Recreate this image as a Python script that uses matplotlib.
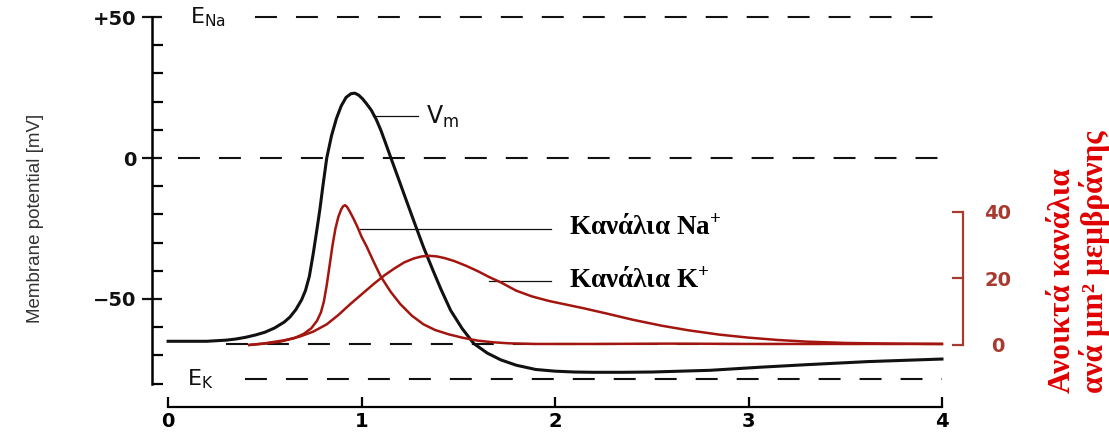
import matplotlib
matplotlib.use('Agg')
import matplotlib.pyplot as plt

plt.rcParams['lines.scale_dashes'] = False
plt.rcParams['mathtext.default'] = 'regular'

# Membrane potential Vm (ms, mV)
t_vm = [0.0, 0.1, 0.2, 0.3, 0.35, 0.4, 0.45, 0.5, 0.55, 0.6, 0.63, 0.66, 0.69, 0.71,
        0.73, 0.75, 0.77, 0.785, 0.80, 0.82, 0.845, 0.87, 0.895, 0.92, 0.945, 0.965,
        0.985, 1.005, 1.025, 1.05, 1.075, 1.10, 1.125, 1.147, 1.19, 1.23, 1.28, 1.32,
        1.37, 1.41, 1.46, 1.52, 1.58, 1.65, 1.72, 1.80, 1.90, 2.0, 2.1, 2.2, 2.35,
        2.5, 2.65, 2.8, 3.06, 3.3, 3.62, 4.0]
v_vm = [-65, -65, -65, -64.6, -64.2, -63.6, -62.8, -61.8, -60.3, -58.2, -56.4, -53.8,
        -50.3, -47, -42, -34, -25, -18, -10, 0, 8, 14, 18.5, 21.5, 22.8, 23,
        22.3, 21, 19.3, 17, 13.8, 9.8, 5.1, 0.9, -7.2, -14.8, -24.2, -31.6,
        -40, -46.5, -54, -60.5, -65.8, -69.2, -71.6, -73.5, -75, -75.6, -75.9, -76, -76,
        -75.9, -75.6, -75.3, -74.2, -73.3, -72.2, -71.3]

# Open Na+ channels per um^2
t_na = [0.42, 0.5, 0.58, 0.65, 0.70, 0.74, 0.77, 0.79, 0.805, 0.82, 0.835, 0.85, 0.865,
        0.88, 0.895, 0.905, 0.915, 0.925, 0.94, 0.958, 0.98, 1.0, 1.027, 1.06, 1.10,
        1.15, 1.20, 1.26, 1.32, 1.38, 1.45, 1.52, 1.60, 1.68, 1.76, 1.9, 2.2, 2.6,
        3.0, 3.5, 4.0]
na_open = [0, 0.4, 1, 2, 3.3, 5, 7.3, 9.8, 13, 18, 24, 30, 35,
           38.5, 40.8, 41.7, 42, 41.5, 40, 38, 35.3, 32.5, 29.5, 25.3, 20.5,
           16, 12.3, 8.8, 6.2, 4.5, 3.2, 2.2, 1.3, 0.8, 0.5, 0.3, 0.3, 0.4,
           0.3, 0.3, 0.3]

# Open K+ channels per um^2
t_k = [0.42, 0.5, 0.6, 0.68, 0.75, 0.82, 0.88, 0.94, 1.0, 1.06, 1.12, 1.17, 1.22,
       1.27, 1.31, 1.35, 1.39, 1.43, 1.48, 1.54, 1.60, 1.66, 1.72, 1.80, 1.88, 1.97,
       2.06, 2.15, 2.27, 2.4, 2.55, 2.69, 2.85, 3.0, 3.15, 3.3, 3.5, 3.75, 4.0]
k_open = [0, 0.5, 1.4, 2.5, 4, 6.2, 9, 12.2, 15.2, 18.2, 21, 23, 24.8,
          26, 26.6, 26.8, 26.6, 26.1, 25.2, 23.8, 22.2, 20.4, 18.8, 16.3, 14.6, 13.2,
          12.1, 11, 9.4, 7.6, 5.8, 4.4, 3.1, 2.2, 1.5, 1, 0.6, 0.4, 0.3]

E_NA = 50
E_K = -78.4
V_REST = -65.8

black = '#111111'
red_line = '#a3150f'
red_axis = '#a83a30'
dash = (15.8, 13.7)

fig = plt.figure(figsize=(11.09, 4.33), dpi=100)
ax = fig.add_axes([0.1371, 0.1109, 0.7313, 0.8563])
ax.set_xlim(-0.083, 4.109)
ax.set_ylim(-80.5, 51)
ax2 = ax.twinx()
ax2.set_ylim(-12.03, 99.41)

# reference dashed lines
ax.plot([0.45, 4.04], [E_NA, E_NA], color=black, lw=1.5, dashes=dash, clip_on=False)
ax.plot([0.05, 4.04], [0, 0], color=black, lw=1.5, dashes=dash)
ax.plot([0.30, 4.0], [V_REST, V_REST], color=black, lw=1.5, dashes=dash)
ax.plot([0.40, 4.0], [E_K, E_K], color=black, lw=1.5, dashes=dash)

ax.plot(t_vm, v_vm, color=black, lw=2.2, solid_joinstyle='round')
ax2.plot(t_na, na_open, color=red_line, lw=1.8, solid_joinstyle='round')
ax2.plot(t_k, k_open, color=red_line, lw=1.8, solid_joinstyle='round')

# left axis
for s in ['top', 'right']:
    ax.spines[s].set_visible(False)
ax.spines['left'].set_bounds(-80, 50)
ax.spines['left'].set_linewidth(1.8)
ax.spines['bottom'].set_bounds(0, 4)
ax.spines['bottom'].set_position(('outward', 15.8))
ax.spines['bottom'].set_linewidth(1.6)
ax.set_yticks([50, 0, -50])
ax.set_yticklabels(['+50', '0', '\u221250'])
ax.set_yticks(range(-80, 51, 10), minor=True)
ax.tick_params(axis='y', which='major', direction='inout', length=14, width=1.6, pad=4,
               labelsize=14, colors=black)
ax.tick_params(axis='y', which='minor', direction='in', length=8, width=1.6)
ax.set_xticks([0, 1, 2, 3, 4])
ax.tick_params(axis='x', direction='in', length=7, width=1.6, pad=4, labelsize=14)
for lab in ax.get_xticklabels() + ax.get_yticklabels():
    lab.set_fontweight('bold')

# right axis
for s in ['top', 'left', 'bottom']:
    ax2.spines[s].set_visible(False)
ax2.spines['right'].set_bounds(0, 40)
ax2.spines['right'].set_color(red_axis)
ax2.spines['right'].set_linewidth(1.6)
ax2.set_yticks([0, 20, 40])
ax2.tick_params(axis='y', direction='in', length=8, width=1.6, color=red_axis,
                labelcolor=red_axis, labelsize=14, pad=25)
for lab in ax2.get_yticklabels():
    lab.set_fontweight('bold')
    lab.set_horizontalalignment('center')

# labels on the curves
ax.text(0.114, 50, r'$E_{Na}$', fontsize=16, ha='left', va='center', color=black)
ax.text(0.10, -78.4, r'$E_{K}$', fontsize=16, ha='left', va='center', color=black)
ax.plot([1.06, 1.29], [14.9, 14.9], color=black, lw=0.9)
ax.text(1.335, 14.5, r'$V_{m}$', fontsize=17, ha='left', va='center', color=black)
ax.plot([0.99, 1.98], [-25.2, -25.2], color=black, lw=0.9)
ax.text(2.07, -24.5, 'Κανάλια Na$^{+}$', fontsize=19.5, fontweight='bold',
        family='Liberation Serif', ha='left', va='center')
ax.plot([1.66, 1.98], [-43.6, -43.6], color=black, lw=0.9)
ax.text(2.07, -43.6, 'Κανάλια K$^{+}$', fontsize=19.5, fontweight='bold',
        family='Liberation Serif', ha='left', va='center')

fig.text(36 / 1109, 1 - 218 / 433, 'Membrane potential [mV]', rotation=90,
         ha='center', va='center', fontsize=13.5, color='#333333',
         family='Liberation Sans')
fig.text(1063 / 1109, 1 - 393 / 433, 'Ανοικτά κανάλια', rotation=90, ha='center',
         va='bottom', fontsize=22.5, fontweight='bold', family='Liberation Serif', color='#e00000')
fig.text(1094 / 1109, 1 - 393 / 433, 'ανά μm² μεμβράνης', rotation=90, ha='center',
         va='bottom', fontsize=22.5, fontweight='bold', family='Liberation Serif', color='#e00000')

fig.savefig('out.png', dpi=100)
